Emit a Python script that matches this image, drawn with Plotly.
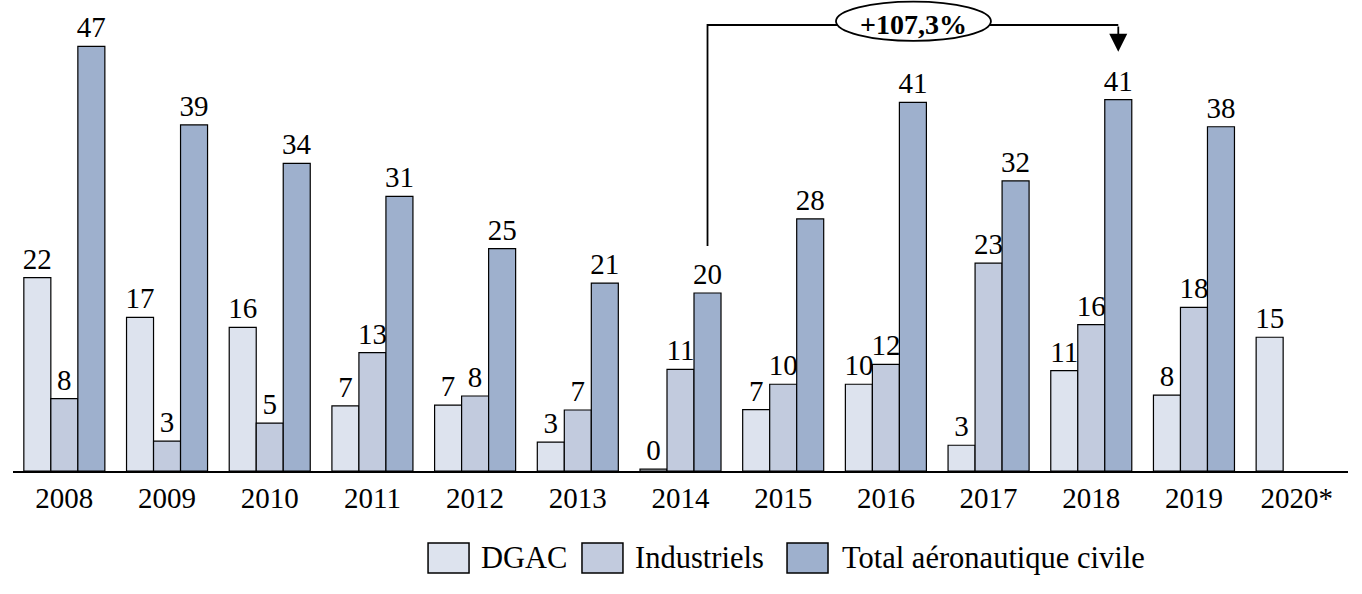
import plotly.graph_objects as go

years = ["2008", "2009", "2010", "2011", "2012", "2013", "2014", "2015",
         "2016", "2017", "2018", "2019", "2020*"]

dgac = [21.4, 17.0, 15.9, 7.2, 7.3, 3.2, 0.2, 6.8, 9.6, 2.85, 11.1, 8.4, 14.8]
industriels = [8.0, 3.3, 5.3, 13.1, 8.3, 6.75, 11.25, 9.6, 11.8, 23.0, 16.2, 18.1, None]
total = [47.0, 38.3, 34.05, 30.4, 24.6, 20.8, 19.7, 27.9, 40.8, 32.1, 41.1, 38.1, None]

dgac_labels = ["22", "17", "16", "7", "7", "3", "0", "7", "10", "3", "11", "8", "15"]
ind_labels = ["8", "3", "5", "13", "8", "7", "11", "10", "12", "23", "16", "18", ""]
tot_labels = ["47", "39", "34", "31", "25", "21", "20", "28", "41", "32", "41", "38", ""]

series_names = ["DGAC", "Industriels", "Total aéronautique civile"]
colors = ["#dde3ee", "#c2cbde", "#9eb0cd"]

growth_text = "+107,3%"
start_idx, end_idx = years.index("2014"), years.index("2018")

FONT = "Liberation Serif"
fig = go.Figure()
for name, vals, labels, col in zip(series_names, [dgac, industriels, total],
                                   [dgac_labels, ind_labels, tot_labels], colors):
    fig.add_trace(go.Bar(
        x=years, y=vals, name=name, text=labels, textposition="outside",
        textfont=dict(family=FONT, size=29, color="black"),
        marker=dict(color=col, line=dict(color="black", width=1.2)),
        cliponaxis=False, constraintext="none", showlegend=False,
    ))

px_per_unit = 9.036
ymax = 471 / px_per_unit
fig.update_layout(
    width=1362, height=594,
    margin=dict(l=13, r=14, t=0, b=123),
    barmode="group", bargap=0.211, bargroupgap=0,
    plot_bgcolor="white", paper_bgcolor="white",
    font=dict(family=FONT, size=29, color="black"),
    xaxis=dict(showline=True, linecolor="black", linewidth=1.5, ticks="",
               tickfont=dict(family=FONT, size=29), showgrid=False),
    yaxis=dict(range=[0, ymax], visible=False, showgrid=False),
)

# growth bracket between 2014 and 2018 totals
bar_w = (1 - 0.211) / 3
off = bar_w  # third bar centre offset from category centre
x0 = start_idx + off
x1 = end_idx + off
y_top = 49.36
y_start = total[start_idx] + 5.2
y_tip = total[end_idx] + 5.3
fig.add_shape(type="path",
              path=f"M {x0},{y_start} L {x0},{y_top} L {x1},{y_top}",
              xref="x", yref="y", line=dict(color="black", width=1.8))
fig.add_annotation(x=x1, y=y_tip, ax=x1, ay=y_top, xref="x", yref="y",
                   axref="x", ayref="y", showarrow=True, arrowhead=2,
                   arrowsize=2.0, arrowwidth=1.8, arrowcolor="black",
                   standoff=0, text="")
fig.add_shape(type="circle", xref="x", yref="y",
              x0=7.514, x1=9.023, y0=47.6, y1=51.95,
              line=dict(color="black", width=1.8), fillcolor="white")
fig.add_annotation(x=(7.514 + 9.023) / 2, y=y_top + 0.1, xref="x", yref="y",
                   text=f"<b>{growth_text}</b>", showarrow=False,
                   font=dict(family=FONT, size=28, color="black"))

# custom legend
box_x = [0.3109, 0.4262, 0.5798]
txt_x = [0.3490, 0.4644, 0.6195]
for bx, tx, name, col in zip(box_x, txt_x, series_names, colors):
    fig.add_shape(type="rect", xref="paper", yref="paper",
                  x0=bx, x1=bx + 0.0307, y0=-0.2166, y1=-0.1529,
                  line=dict(color="black", width=1.5), fillcolor=col)
    fig.add_annotation(x=tx, y=-0.1847, xref="paper", yref="paper",
                       xanchor="left", yanchor="middle", showarrow=False,
                       text=name, font=dict(family=FONT, size=30.5, color="black"))

fig.write_html("out.html", config={"displayModeBar": False},
               post_script="document.body.style.margin='0';document.body.style.overflow='hidden';")
